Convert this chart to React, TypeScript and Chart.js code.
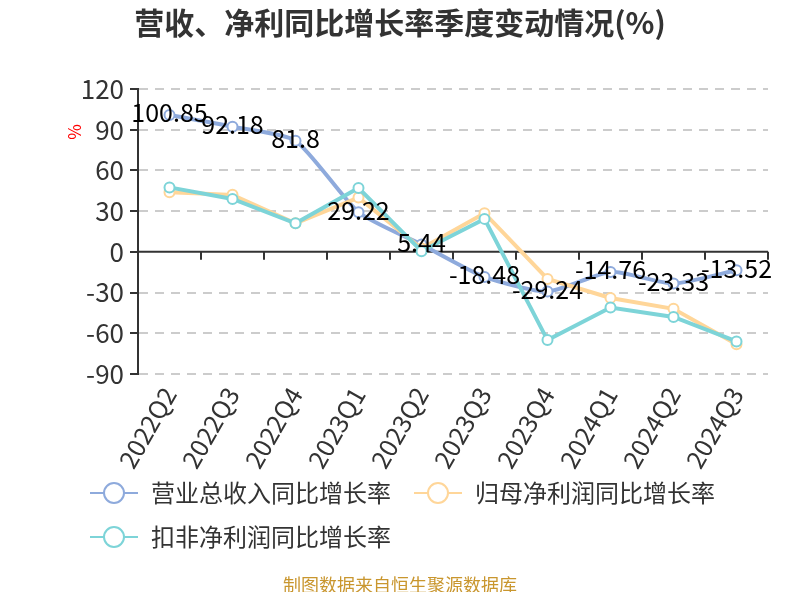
import { useEffect, useRef } from 'react'
import Chart from 'chart.js/auto'

// 季度
const quarters = ['2022Q2', '2022Q3', '2022Q4', '2023Q1', '2023Q2', '2023Q3', '2023Q4', '2024Q1', '2024Q2', '2024Q3']
// 营业总收入同比增长率
const revenueGrowth = [100.85, 92.18, 81.8, 29.22, 5.44, -18.48, -29.24, -14.76, -23.33, -13.52]
// 归母净利润同比增长率
const netProfitGrowth = [44, 42, 21, 40, 2.5, 28.5, -20, -34, -42, -68]
// 扣非净利润同比增长率
const deductedProfitGrowth = [47.5, 39, 21, 47, 0.5, 24.3, -65, -41, -48, -66]

const seriesNames = ['营业总收入同比增长率', '归母净利润同比增长率', '扣非净利润同比增长率']
const seriesColors = ['#8eaadc', '#ffd699', '#7dd4d8']
const yTicks = [120, 90, 60, 30, 0, -30, -60, -90]

const FONT = "'Noto Sans CJK SC', 'Noto Sans', sans-serif"

// 标题、单位、图例、数据标签、零轴刻度都用插件画在画布上
const decorPlugin = {
  id: 'decor',
  beforeDatasetsDraw(chart: any) {
    const { ctx, chartArea, scales } = chart
    const x = scales.x
    const y0 = scales.y.getPixelForValue(0)
    ctx.save()
    ctx.strokeStyle = '#333'
    ctx.lineWidth = 2
    ctx.beginPath()
    ctx.moveTo(chartArea.left, y0)
    ctx.lineTo(chartArea.right, y0)
    const half = (x.getPixelForValue(1) - x.getPixelForValue(0)) / 2
    for (let i = 0; i <= quarters.length; i++) {
      const px = i < quarters.length ? x.getPixelForValue(i) - half : x.getPixelForValue(i - 1) + half
      ctx.moveTo(px, y0)
      ctx.lineTo(px, y0 + 8)
    }
    ctx.stroke()
    ctx.restore()
  },
  afterDatasetsDraw(chart: any) {
    const { ctx } = chart
    const meta = chart.getDatasetMeta(0)
    ctx.save()
    ctx.font = `25px ${FONT}`
    ctx.fillStyle = '#000'
    ctx.textAlign = 'center'
    ctx.textBaseline = 'middle'
    meta.data.forEach((pt: any, i: number) => {
      ctx.fillText(String(revenueGrowth[i]), pt.x, pt.y - 2)
    })
    ctx.restore()
  },
  afterDraw(chart: any) {
    const { ctx, width } = chart
    ctx.save()
    // 标题
    ctx.font = `bold 30px ${FONT}`
    ctx.fillStyle = '#333'
    ctx.textAlign = 'center'
    ctx.textBaseline = 'middle'
    ctx.fillText('营收、净利同比增长率季度变动情况(%)', width / 2, 15)

    // 单位
    ctx.save()
    ctx.translate(67, 124)
    ctx.rotate(-Math.PI / 2)
    ctx.font = `17px ${FONT}`
    ctx.fillStyle = '#ff0000'
    ctx.fillText('%', 0, 0)
    ctx.restore()

    // 图例
    ctx.font = `24px ${FONT}`
    ctx.textAlign = 'left'
    const rows = [485, 529]
    let lx = 82
    let row = 0
    seriesNames.forEach((name, i) => {
      const tw = ctx.measureText(name).width
      if (lx + 61 + tw > width - 20) {
        row++
        lx = 82
      }
      const ly = rows[row]
      ctx.strokeStyle = seriesColors[i]
      ctx.lineWidth = 2
      ctx.beginPath()
      ctx.moveTo(lx, ly)
      ctx.lineTo(lx + 48, ly)
      ctx.stroke()
      ctx.beginPath()
      ctx.arc(lx + 24, ly, 10, 0, Math.PI * 2)
      ctx.fillStyle = '#fff'
      ctx.fill()
      ctx.stroke()
      ctx.fillStyle = '#333'
      ctx.fillText(name, lx + 61, ly)
      lx += 61 + tw + 23
    })

    // 数据来源
    ctx.font = `18px ${FONT}`
    ctx.fillStyle = '#c9962e'
    ctx.textAlign = 'center'
    ctx.fillText('制图数据来自恒生聚源数据库', width / 2, 577)
    ctx.restore()
  }
}

export default function App() {
  const chartRef = useRef<HTMLCanvasElement>(null)
  const chartInstance = useRef<Chart | null>(null)

  useEffect(() => {
    if (!chartRef.current) return
    if (chartInstance.current) {
      chartInstance.current.destroy()
      chartInstance.current = null
    }

    const series = [revenueGrowth, netProfitGrowth, deductedProfitGrowth]

    chartInstance.current = new Chart(chartRef.current, {
      type: 'line',
      data: {
        labels: quarters,
        datasets: series.map((values, i) => ({
          label: seriesNames[i],
          data: values,
          borderColor: seriesColors[i],
          backgroundColor: '#fff',
          borderWidth: 4,
          pointRadius: 5,
          pointBorderWidth: 2,
          pointBackgroundColor: '#fff',
          pointBorderColor: seriesColors[i],
          tension: i === 0 ? 0.2 : 0,
          order: i === 0 ? 2 : i === 1 ? 1 : 0
        }))
      },
      options: {
        animation: false,
        responsive: true,
        maintainAspectRatio: false,
        layout: { padding: { top: 81, left: 40, right: 24, bottom: 108 } },
        plugins: {
          legend: { display: false },
          title: { display: false },
          tooltip: { enabled: false }
        },
        scales: {
          x: {
            offset: true,
            afterFit: (scale: any) => { scale.height = 110 },
            grid: { display: false },
            border: { display: false },
            ticks: {
              autoSkip: false,
              maxRotation: 60,
              minRotation: 60,
              padding: 0,
              color: '#333',
              font: { size: 25, family: FONT }
            }
          },
          y: {
            min: -90,
            max: 120,
            afterFit: (scale: any) => { scale.width = 90 },
            afterBuildTicks: (scale: any) => {
              scale.ticks = yTicks.map((v) => ({ value: v }))
            },
            grid: {
              color: (ctx: any) => (ctx.tick && ctx.tick.value === 0 ? 'rgba(0,0,0,0)' : '#ccc'),
              lineWidth: 2,
              tickLength: 8,
              tickColor: '#333',
              tickWidth: 2,
              tickBorderDash: []
            },
            border: { display: true, color: '#333', width: 2, dash: [9, 7] },
            ticks: {
              padding: 6,
              color: '#333',
              font: { size: 26, family: FONT }
            }
          }
        }
      },
      plugins: [decorPlugin]
    })

    return () => {
      if (chartInstance.current) {
        chartInstance.current.destroy()
        chartInstance.current = null
      }
    }
  }, [])

  return (
    <div style={{ height: '584px' }}>
      <canvas ref={chartRef} />
    </div>
  )
}
